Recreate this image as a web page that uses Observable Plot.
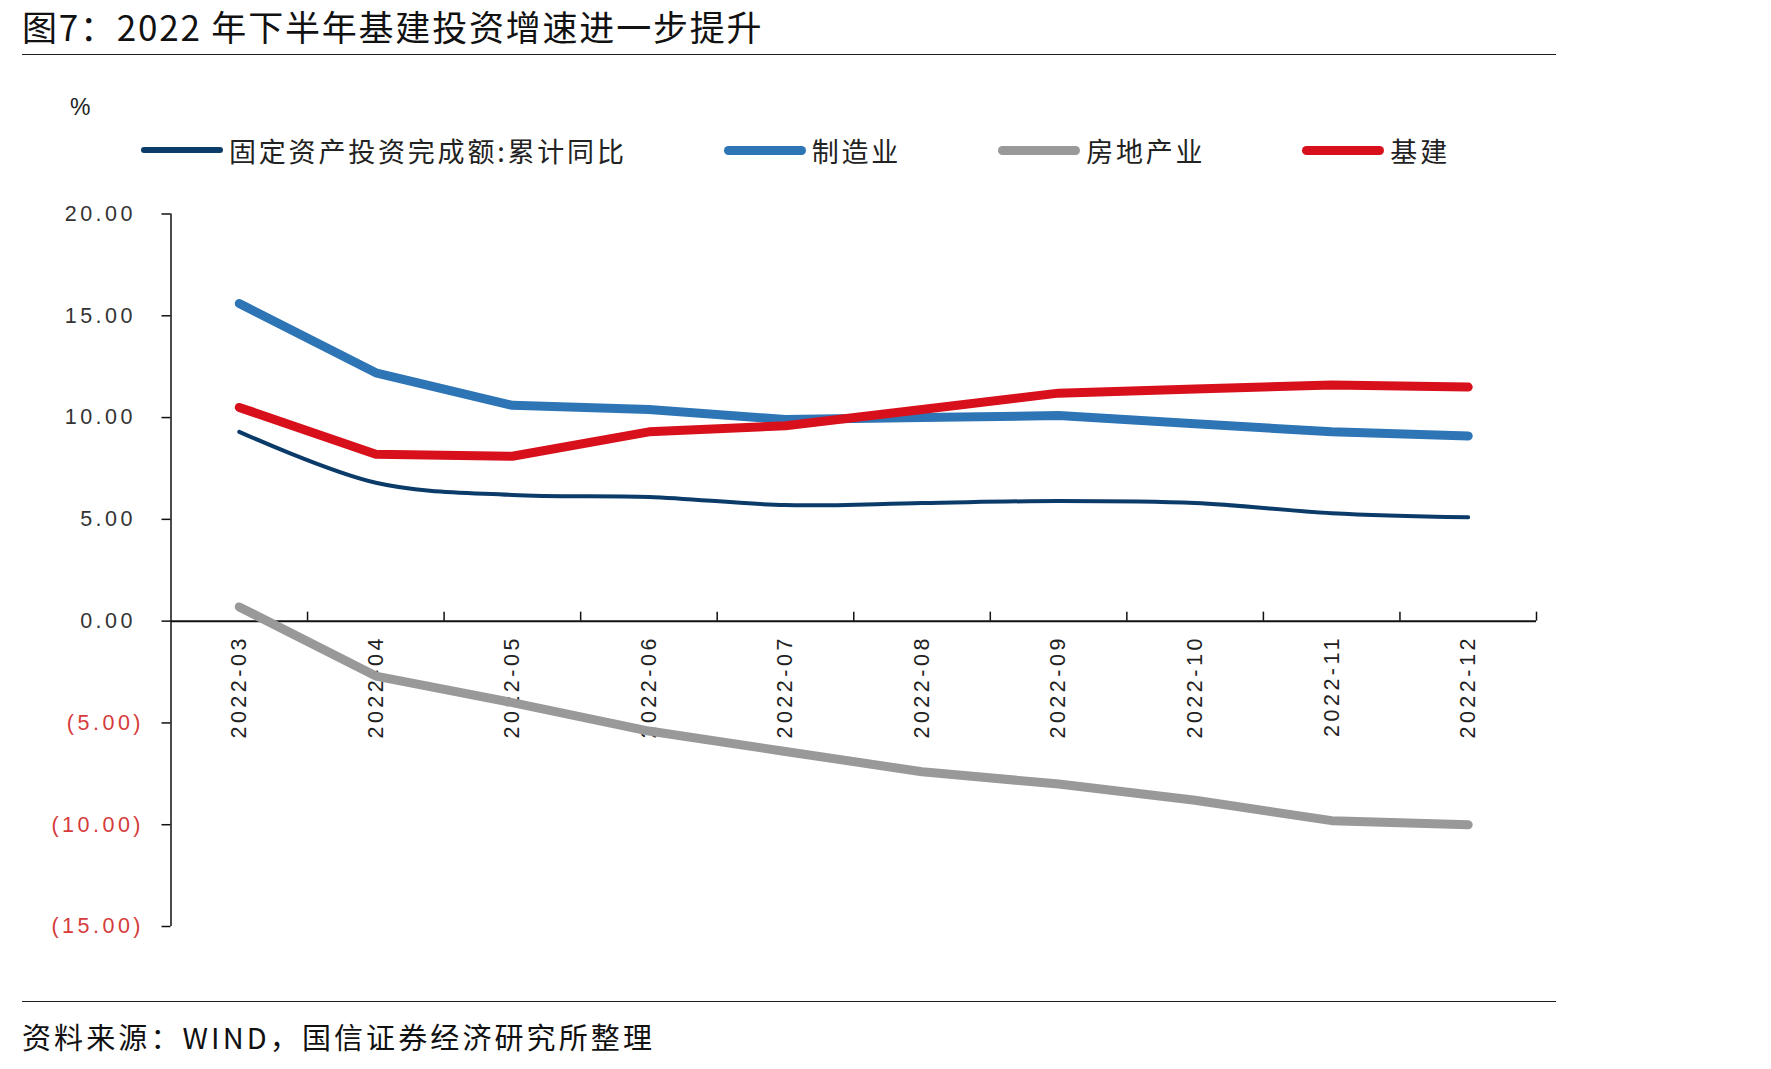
<!DOCTYPE html>
<html>
<head>
<meta charset="utf-8">
<script src="https://cdn.jsdelivr.net/npm/d3@7"></script>
<script src="https://cdn.jsdelivr.net/npm/@observablehq/plot@0.6"></script>
<style>
  body { margin: 0; background: #fff; }
  #page { position: relative; width: 1771px; height: 1069px; overflow: hidden; background: #fff;
          font-family: "Noto Sans CJK SC", "Noto Sans", sans-serif; color: #111; }
  #title { position: absolute; left: 22px; top: 5px; font-size: 35px; line-height: 42px; letter-spacing: 1.8px; white-space: nowrap; color: #111; }
  .hr { position: absolute; left: 22px; width: 1534px; height: 0; border-top: 1.5px solid #222; }
  #pct { position: absolute; left: 70px; top: 94px; font: 23px "Liberation Sans", sans-serif; color: #222; }
  #legend { position: absolute; left: 141px; top: 132px; height: 36px; display: flex; align-items: center; gap: 97px;
            font-size: 27px; letter-spacing: 2.8px; color: #222; white-space: nowrap; }
  .item { display: flex; align-items: center; }
  .sw { width: 82px; border-radius: 5px; margin-right: 6px; }
  #chart { position: absolute; left: 0; top: 170px; }
  #foot { position: absolute; left: 22px; top: 1018px; font-size: 29px; line-height: 36px; letter-spacing: 3.1px; white-space: nowrap; color: #111; }
</style>
</head>
<body>
<div id="page">
  <div id="title"></div>
  <div class="hr" style="top:54px"></div>
  <div id="pct">%</div>
  <div id="legend"></div>
  <div id="chart"></div>
  <div class="hr" style="top:1001px"></div>
  <div id="foot"></div>
</div>
<script>
// ---- data ----
const titleText = "图7：2022 年下半年基建投资增速进一步提升";
const sourceText = "资料来源：WIND，国信证券经济研究所整理";
const months = ["2022-03","2022-04","2022-05","2022-06","2022-07","2022-08","2022-09","2022-10","2022-11","2022-12"];
const seriesNames = ["固定资产投资完成额:累计同比", "制造业", "房地产业", "基建"];
const fixedAsset     = [9.3, 6.8, 6.2, 6.1, 5.7, 5.8, 5.9, 5.8, 5.3, 5.1];
const manufacturing  = [15.6, 12.2, 10.6, 10.4, 9.9, 10.0, 10.1, 9.7, 9.3, 9.1];
const realEstate     = [0.7, -2.7, -4.0, -5.4, -6.4, -7.4, -8.0, -8.8, -9.8, -10.0];
const infrastructure = [10.5, 8.2, 8.1, 9.3, 9.6, 10.4, 11.2, 11.4, 11.6, 11.5];
const yTicks = [-15, -10, -5, 0, 5, 10, 15, 20];

// ---- styles ----
const seriesValues = [fixedAsset, manufacturing, realEstate, infrastructure];
const colors = ["#0b3b69", "#2e75b6", "#999999", "#d8101c"];
const widths = [4, 9, 9, 9];
const curves = ["catmull-rom", "linear", "linear", "linear"];
const swatchH = [6, 9, 9, 9];
const labelDark = "#333333";
const labelRed = "#d63a3a";

document.getElementById("title").textContent = titleText;
document.getElementById("foot").textContent = sourceText;

const legend = document.getElementById("legend");
seriesNames.forEach((name, k) => {
  const item = document.createElement("div");
  item.className = "item";
  const sw = document.createElement("div");
  sw.className = "sw";
  sw.style.background = colors[k];
  sw.style.height = swatchH[k] + "px";
  const t = document.createElement("span");
  t.textContent = name;
  item.appendChild(sw); item.appendChild(t);
  legend.appendChild(item);
});

const rowsFor = (k) => seriesValues[k].map((v, i) => ({i, month: months[i], value: v}));
const xDomain = [-0.5, months.length - 0.5];
const yDomain = [d3.min(yTicks), d3.max(yTicks)];
const boundaries = d3.range(1, months.length + 1).map(j => j - 0.5);
const fmt = d3.format(".2f");
const fmtY = v => v < 0 ? "(" + fmt(-v) + ")" : fmt(v);

const plot = Plot.plot({
  width: 1771,
  height: 810,
  marginLeft: 170.5,
  marginRight: 235,
  marginTop: 43.5,
  marginBottom: 54,
  x: {domain: xDomain, axis: null},
  y: {domain: yDomain, axis: null},
  style: {fontFamily: "Liberation Sans, Arial, sans-serif", fontSize: "21.5px", letterSpacing: "3.5px", background: "#fff"},
  marks: [
    Plot.ruleX([xDomain[0]], {y1: yDomain[0], y2: yDomain[1], stroke: "#111", strokeWidth: 1.5}),
    Plot.ruleY(yTicks, {x1: xDomain[0], x2: xDomain[0], insetLeft: -9, stroke: "#111", strokeWidth: 1.5}),
    Plot.text(yTicks.filter(v => v >= 0), {x: xDomain[0], y: d => d, text: fmtY, textAnchor: "end", dx: -35, fill: labelDark}),
    Plot.text(yTicks.filter(v => v < 0), {x: xDomain[0], y: d => d, text: fmtY, textAnchor: "end", dx: -27, fill: labelRed}),
    Plot.ruleY([0], {stroke: "#111", strokeWidth: 2}),
    Plot.ruleX(boundaries, {y1: 0, y2: 0, insetTop: -9, stroke: "#111", strokeWidth: 1.5}),
    Plot.text(months, {x: (d, i) => i, y: 0, text: d => d, rotate: -90, textAnchor: "end", dy: 14, fill: "#222"}),
    ...seriesValues.map((vals, k) => Plot.line(rowsFor(k), {
      x: "i", y: "value", stroke: colors[k], strokeWidth: widths[k],
      curve: curves[k], strokeLinecap: "round", strokeLinejoin: "round"
    }))
  ]
});
document.getElementById("chart").appendChild(plot);
</script>
</body>
</html>
